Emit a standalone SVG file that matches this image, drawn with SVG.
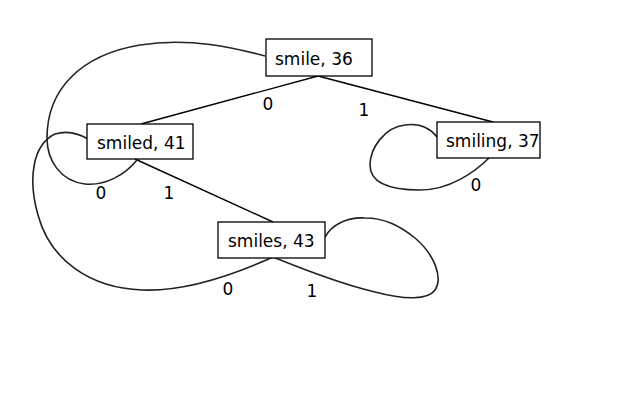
<svg xmlns="http://www.w3.org/2000/svg" width="640" height="400" viewBox="0 0 640 400">
<style>
.box{fill:#fff;stroke:#000;stroke-width:1.3}
.t{font-family:"DejaVu Sans",sans-serif;font-size:17px;fill:#000}
.lbl{font-family:"DejaVu Sans",sans-serif;font-size:17px;fill:#000;text-anchor:middle}
.e{fill:none;stroke:#000;stroke-width:1.4}
.c{fill:none;stroke:#222;stroke-width:1.6}
</style>
<rect width="640" height="400" fill="#fff"/>
<g id="connectors">
<line class="e" x1="318" y1="76" x2="141" y2="124"/>
<line class="e" x1="318" y1="76" x2="493" y2="122"/>
<line class="e" x1="135" y1="159" x2="273" y2="222"/>
<path class="c" d="M137,160 C125,175 105,186 85,184 C60,181 47,160 47,138 C47,90 80,55 140,45 C190,37 235,48 265,56"/>
<path class="c" d="M273,257 C240,272 190,292 142,290 C90,288 50,260 38,215 C28,180 32,145 55,134 C68,130 78,133 88,139"/>
<path class="c" d="M273,257 C305,270 345,285 375,292 C405,300 428,300 435,290 C443,278 435,255 415,238 C400,226 385,218 365,218 C345,217 331,226 325,237"/>
<path class="c" d="M490,157 C475,172 450,190 420,190 C395,190 370,185 370,165 C370,148 385,127 405,125 C420,123 430,128 437,137"/>
<text class="lbl" x="268" y="110">0</text>
<text class="lbl" x="364" y="116">1</text>
<text class="lbl" x="101" y="199">0</text>
<text class="lbl" x="169" y="199">1</text>
<text class="lbl" x="476" y="191">0</text>
<text class="lbl" x="228" y="295">0</text>
<text class="lbl" x="312" y="297">1</text>
</g>
<g id="smile">
<rect class="box" x="266" y="39" width="106" height="37"/>
<text class="t" x="275" y="65">smile, 36</text>
</g>
<g id="smiled">
<rect class="box" x="87" y="124" width="106" height="35"/>
<text class="t" x="97" y="149">smiled, 41</text>
</g>
<g id="smiling">
<rect class="box" x="437" y="122" width="103" height="36"/>
<text class="t" x="446" y="147">smiling, 37</text>
</g>
<g id="smiles">
<rect class="box" x="218" y="222" width="107" height="36"/>
<text class="t" x="228" y="247">smiles, 43</text>
</g>
</svg>
